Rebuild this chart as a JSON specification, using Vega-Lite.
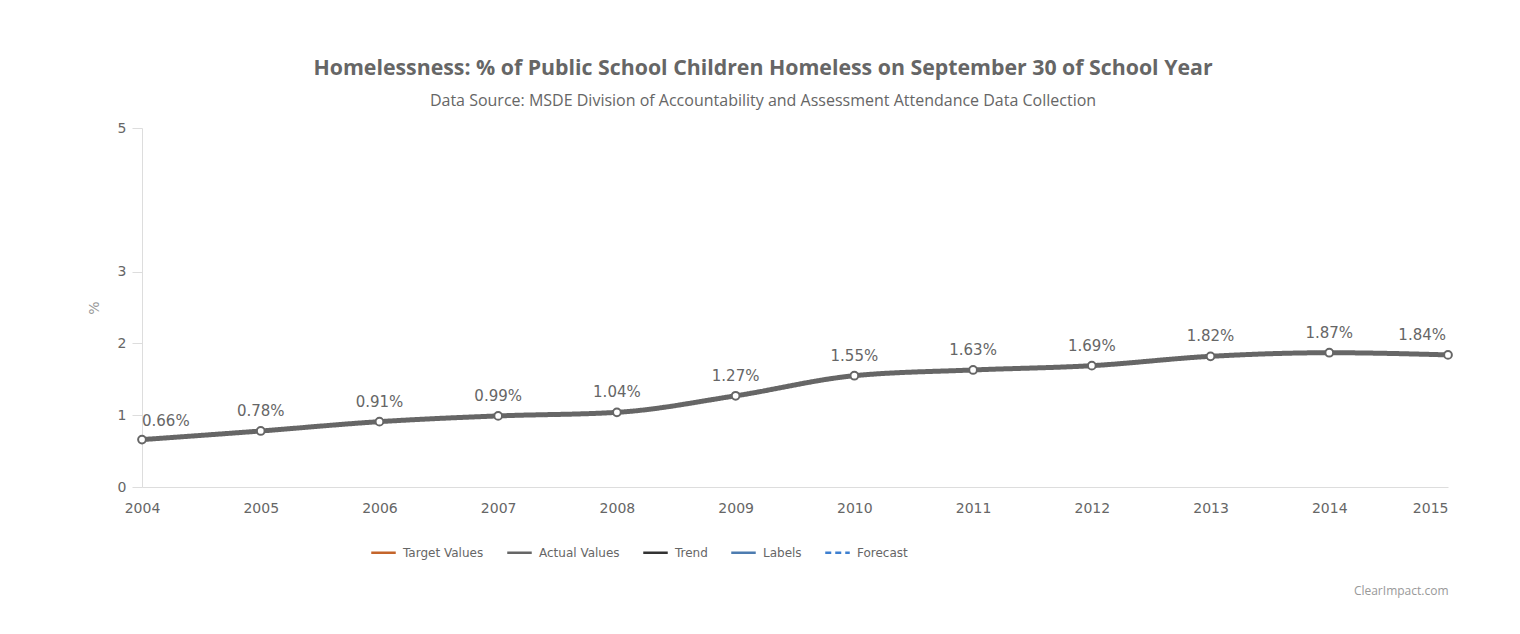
{
  "$schema": "https://vega.github.io/schema/vega-lite/v6.json",
  "width": 1306,
  "height": 359,
  "autosize": {"type": "none"},
  "padding": {"left": 142, "top": 128, "right": 72, "bottom": 147},
  "background": "white",
  "title": {
    "text": "Homelessness: % of Public School Children Homeless on September 30 of School Year",
    "subtitle": "Data Source: MSDE Division of Accountability and Assessment Attendance Data Collection",
    "anchor": "middle",
    "dx": -32,
    "font": "Open Sans",
    "fontSize": 21.3,
    "fontWeight": "bold",
    "color": "#666666",
    "subtitleFont": "Open Sans",
    "subtitleFontSize": 16,
    "subtitleColor": "#666666",
    "subtitlePadding": 14,
    "offset": 12
  },
  "data": {
    "values": [
      {"year": 2004, "pct": 0.66, "label": "0.66%", "series": "Actual Values"},
      {"year": 2005, "pct": 0.78, "label": "0.78%", "series": "Actual Values"},
      {"year": 2006, "pct": 0.91, "label": "0.91%", "series": "Actual Values"},
      {"year": 2007, "pct": 0.99, "label": "0.99%", "series": "Actual Values"},
      {"year": 2008, "pct": 1.04, "label": "1.04%", "series": "Actual Values"},
      {"year": 2009, "pct": 1.27, "label": "1.27%", "series": "Actual Values"},
      {"year": 2010, "pct": 1.55, "label": "1.55%", "series": "Actual Values"},
      {"year": 2011, "pct": 1.63, "label": "1.63%", "series": "Actual Values"},
      {"year": 2012, "pct": 1.69, "label": "1.69%", "series": "Actual Values"},
      {"year": 2013, "pct": 1.82, "label": "1.82%", "series": "Actual Values"},
      {"year": 2014, "pct": 1.87, "label": "1.87%", "series": "Actual Values"},
      {"year": 2015, "pct": 1.84, "label": "1.84%", "series": "Actual Values"}
    ]
  },
  "encoding": {
    "x": {
      "field": "year",
      "type": "quantitative",
      "scale": {"domain": [2004, 2015], "nice": false, "zero": false},
      "axis": {
        "values": [2004, 2005, 2006, 2007, 2008, 2009, 2010, 2011, 2012, 2013, 2014, 2015],
        "format": "d",
        "grid": false,
        "ticks": false,
        "domainColor": "#dddddd",
        "labelFont": "DejaVu Sans",
        "labelFontSize": 14,
        "labelColor": "#666666",
        "labelPadding": 14,
        "labelAlign": {"condition": {"test": "datum.value == 2015", "value": "right"}, "value": "center"},
        "title": "ClearImpact.com",
        "titleAnchor": "end",
        "titleFont": "Open Sans",
        "titleFontSize": 12,
        "titleFontWeight": "normal",
        "titleColor": "#999999",
        "titlePadding": 70
      }
    },
    "y": {
      "field": "pct",
      "type": "quantitative",
      "scale": {"domain": [0, 5], "nice": false},
      "axis": {
        "values": [0, 1, 2, 3, 5],
        "grid": false,
        "domainColor": "#dddddd",
        "tickColor": "#dddddd",
        "tickSize": 10,
        "labelFont": "DejaVu Sans",
        "labelFontSize": 14,
        "labelColor": "#666666",
        "labelPadding": 6,
        "title": "%",
        "titleFont": "DejaVu Sans",
        "titleFontSize": 14,
        "titleFontWeight": "normal",
        "titleColor": "#999999",
        "titlePadding": 16
      }
    }
  },
  "layer": [
    {
      "mark": {"type": "line", "strokeWidth": 5, "interpolate": "monotone"},
      "encoding": {
        "color": {
          "field": "series",
          "type": "nominal",
          "scale": {
            "domain": ["Target Values", "Actual Values", "Trend", "Labels", "Forecast"],
            "range": ["#c4652b", "#666666", "#333333", "#4d7cb0", "#3d7fd0"]
          },
          "legend": {
            "title": null,
            "orient": "none",
            "direction": "horizontal",
            "legendX": 228,
            "legendY": 411,
            "symbolType": "stroke",
            "symbolStrokeWidth": 2.5,
            "symbolSize": 600,
            "columnPadding": 18,
            "labelFont": "DejaVu Sans",
            "labelFontSize": 12,
            "labelColor": "#666666",
            "labelOffset": 6
          }
        },
        "strokeDash": {
          "field": "series",
          "type": "nominal",
          "scale": {
            "domain": ["Target Values", "Actual Values", "Trend", "Labels", "Forecast"],
            "range": [[1, 0], [1, 0], [1, 0], [1, 0], [6, 4]]
          },
          "legend": {
            "title": null,
            "orient": "none",
            "direction": "horizontal",
            "legendX": 228,
            "legendY": 411,
            "symbolType": "stroke",
            "symbolStrokeWidth": 2.5,
            "symbolSize": 600,
            "columnPadding": 18,
            "labelFont": "DejaVu Sans",
            "labelFontSize": 12,
            "labelColor": "#666666",
            "labelOffset": 6
          }
        }
      }
    },
    {
      "mark": {"type": "point", "filled": true, "fill": "white", "stroke": "#666666", "strokeWidth": 2, "size": 60, "opacity": 1}
    },
    {
      "transform": [{"filter": "datum.year == 2004"}],
      "mark": {"type": "text", "align": "left", "dy": -19, "dx": 0, "font": "DejaVu Sans", "fontSize": 15, "color": "#666666"},
      "encoding": {"text": {"field": "label"}}
    },
    {
      "transform": [{"filter": "datum.year > 2004 && datum.year < 2015"}],
      "mark": {"type": "text", "align": "center", "dy": -20, "font": "DejaVu Sans", "fontSize": 15, "color": "#666666"},
      "encoding": {"text": {"field": "label"}}
    },
    {
      "transform": [{"filter": "datum.year == 2015"}],
      "mark": {"type": "text", "align": "right", "dy": -20, "dx": -2, "font": "DejaVu Sans", "fontSize": 15, "color": "#666666"},
      "encoding": {"text": {"field": "label"}}
    }
  ],
  "config": {"view": {"stroke": null}}
}
